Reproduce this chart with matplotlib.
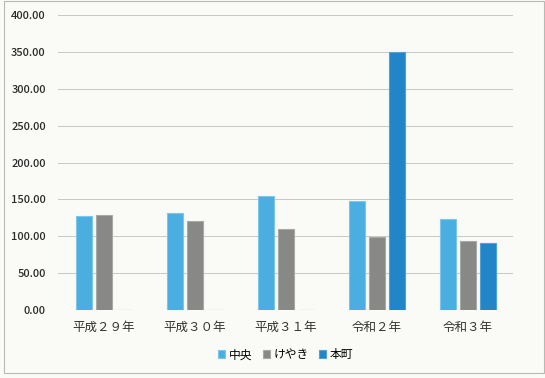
import numpy as np
import matplotlib
matplotlib.use('Agg')
import matplotlib.pyplot as plt
from matplotlib.ticker import FormatStrFormatter

plt.rcParams['font.family'] = ['Noto Sans CJK JP', 'DejaVu Sans']

years = ['平成２９年', '平成３０年', '平成３１年', '令和２年', '令和３年']
chuo = [127, 131, 154, 148, 124]
keyaki = [129, 121, 110, 99, 93]
honcho = [0, 0, 0, 350, 91]

series = [('中央', chuo, '#4aaee0', '#7cc6ec'),
          ('けやき', keyaki, '#888886', '#a8a8a6'),
          ('本町', honcho, '#2185c8', '#4ea2d8')]

fig = plt.figure(figsize=(5.45, 3.78), dpi=100)
fig.patch.set_facecolor('#fafaf6')
ax = fig.add_axes([0.107, 0.18, 0.835, 0.78])
ax.set_facecolor('#fafaf6')

x = np.arange(len(years))
step = 0.22
width = 0.178
for i, (name, vals, col, edge) in enumerate(series):
    ax.bar(x + (i - 1) * step, vals, width, color=col, edgecolor=edge,
           linewidth=0.8, label=name, zorder=3)

ax.set_xlim(-0.5, len(years) - 0.5)
ax.set_ylim(0, 400)
ax.set_yticks(np.arange(0, 401, 50))
ax.yaxis.set_major_formatter(FormatStrFormatter('%.2f'))
ax.grid(axis='y', color='#c8c8c4', linewidth=0.7, zorder=0)
ax.set_xticks(x)
ax.set_xticklabels(years, fontsize=9, color='#333333')
ax.tick_params(axis='x', length=0, pad=8)
ax.tick_params(axis='y', length=0, labelsize=8, labelcolor='#2a2a2a', pad=9)
for lab in ax.get_yticklabels():
    lab.set_fontweight('medium')
for s in ax.spines.values():
    s.set_visible(False)

ax.legend(loc='lower center', bbox_to_anchor=(0.5, -0.21), ncol=3,
          frameon=False, fontsize=8.5, handlelength=0.6, handleheight=0.6,
          handletextpad=0.3, columnspacing=0.9)

# outer chart frame
fig.add_artist(plt.Rectangle((0.008, 0.014), 0.99, 0.984, transform=fig.transFigure,
                             fill=False, edgecolor='#b8b8b4', linewidth=0.8))

fig.savefig('out.png', dpi=100, facecolor=fig.get_facecolor())
